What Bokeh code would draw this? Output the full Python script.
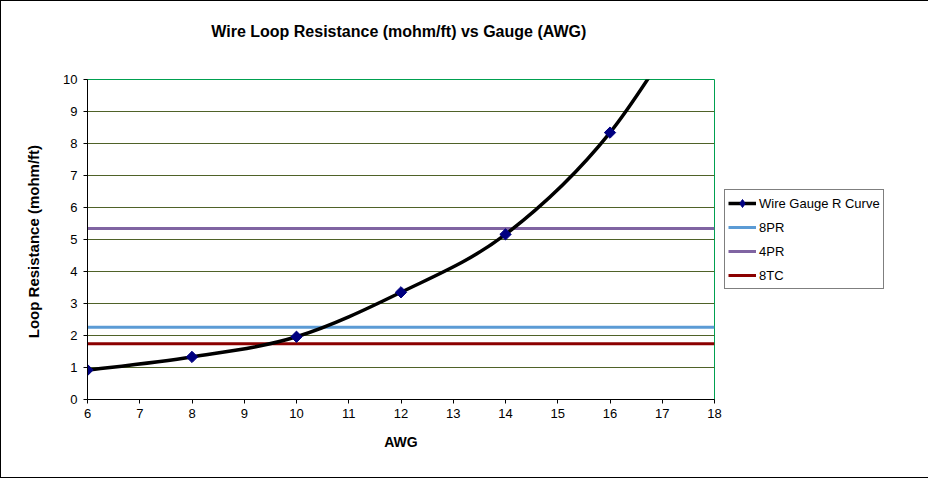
from bokeh.plotting import figure
from bokeh.models import Range1d, Legend, LegendItem, FixedTicker, Title
from bokeh.embed import file_html
from bokeh.resources import INLINE
import numpy as np

# ---- data ----
awg = [6, 8, 10, 12, 14, 16, 18]
loop_res = [0.92, 1.33, 1.96, 3.35, 5.16, 8.34, 13.3]

ref_names = ["8PR", "4PR", "8TC"]
ref_values = [2.26, 5.34, 1.74]
ref_colors = ["#5b9bd5", "#8064a2", "#8b0000"]

x_ticks = [6, 7, 8, 9, 10, 11, 12, 13, 14, 15, 16, 17, 18]
y_ticks = [0, 1, 2, 3, 4, 5, 6, 7, 8, 9, 10]

title_text = "Wire Loop Resistance (mohm/ft)  vs Gauge (AWG)"

FONT = "Liberation Sans"

p = figure(frame_width=627, frame_height=320, output_backend="svg", toolbar_location=None,
           x_range=Range1d(6, 18), y_range=Range1d(0, 10),
           min_border_left=86, min_border_right=211, min_border_top=78, min_border_bottom=78,
           title=None)
p.styles = {"border": "1px solid black"}

# spacer title (closest to the frame) then the real title above it
spacer = Title(text=" ", text_font=FONT, text_font_size="16px", standoff=21)
p.add_layout(spacer, "above")
main_title = Title(text=title_text, align="center", text_font=FONT, text_font_size="16px",
                   text_font_style="bold", text_color="black", standoff=0)
p.add_layout(main_title, "above")

p.outline_line_color = "#00a050"
p.outline_line_width = 1
p.xgrid.visible = False
p.ygrid.ticker = FixedTicker(ticks=y_ticks[1:-1])
p.ygrid.grid_line_color = "#4f6228"
p.ygrid.grid_line_width = 1

for ax in (p.xaxis, p.yaxis):
    ax.axis_line_color = "black"
    ax.major_tick_line_color = "black"
    ax.minor_tick_line_color = None
    ax.major_tick_in = 0
    ax.major_tick_out = 4
    ax.major_label_text_font = FONT
    ax.major_label_text_font_size = "13px"
    ax.major_label_text_color = "black"
    ax.axis_label_text_font = FONT
    ax.axis_label_text_font_style = "bold"
    ax.axis_label_text_color = "black"

p.xaxis.axis_label_text_font_size = "14px"
p.yaxis.axis_label_text_font_size = "15px"
p.xaxis.ticker = FixedTicker(ticks=x_ticks)
p.yaxis.ticker = FixedTicker(ticks=y_ticks)
p.xaxis.axis_label = "AWG"
p.yaxis.axis_label = "Loop Resistance  (mohm/ft)"
p.xaxis.major_label_standoff = 5
p.yaxis.major_label_standoff = 6
p.xaxis.axis_label_standoff = 13
p.yaxis.axis_label_standoff = 18

# reference lines
ref_renderers = []
for name, v, c in zip(ref_names, ref_values, ref_colors):
    r = p.line(x=[awg[0], x_ticks[-1]], y=[v, v], line_color=c, line_width=3)
    ref_renderers.append(r)

# smoothed curve through the data points (Excel-style smoothing)
xs = np.array(awg, dtype=float)
ys = np.array(loop_res, dtype=float)
n = len(xs)
x0, y0, x1, y1, cx0, cy0, cx1, cy1 = [], [], [], [], [], [], [], []
for i in range(n - 1):
    im = max(i - 1, 0)
    ip2 = min(i + 2, n - 1)
    x0.append(xs[i]); y0.append(ys[i])
    x1.append(xs[i + 1]); y1.append(ys[i + 1])
    cx0.append(xs[i] + (xs[i + 1] - xs[im]) / 6)
    cy0.append(ys[i] + (ys[i + 1] - ys[im]) / 6)
    cx1.append(xs[i + 1] - (xs[ip2] - xs[i]) / 6)
    cy1.append(ys[i + 1] - (ys[ip2] - ys[i]) / 6)
curve = p.bezier(x0=x0, y0=y0, x1=x1, y1=y1, cx0=cx0, cy0=cy0, cx1=cx1, cy1=cy1,
                 line_color="black", line_width=3.5)
# small diamonds (hidden under the larger markers) give the legend its small marker
legend_marker = p.scatter(x=awg, y=loop_res, marker="diamond", size=7,
                          fill_color="#000080", line_color="#000080")
pts = p.scatter(x=awg, y=loop_res, marker="square", angle=np.pi / 4, size=8,
                fill_color="#000080", line_color="#000080")

items = [LegendItem(label="Wire Gauge R Curve", renderers=[curve, legend_marker])]
for name, r in zip(ref_names, ref_renderers):
    items.append(LegendItem(label=name, renderers=[r]))

legend = Legend(items=items, location="left")
legend.border_line_color = "black"
legend.border_line_width = 1
legend.background_fill_alpha = 1
legend.label_text_font = FONT
legend.label_text_font_size = "13px"
legend.label_text_color = "black"
legend.glyph_width = 28
legend.glyph_height = 20
legend.label_height = 20
legend.spacing = 4
legend.padding = 3
legend.margin = 10
legend.label_standoff = 3
p.add_layout(legend, "right")

open("out.html", "w").write(file_html(p, INLINE))
